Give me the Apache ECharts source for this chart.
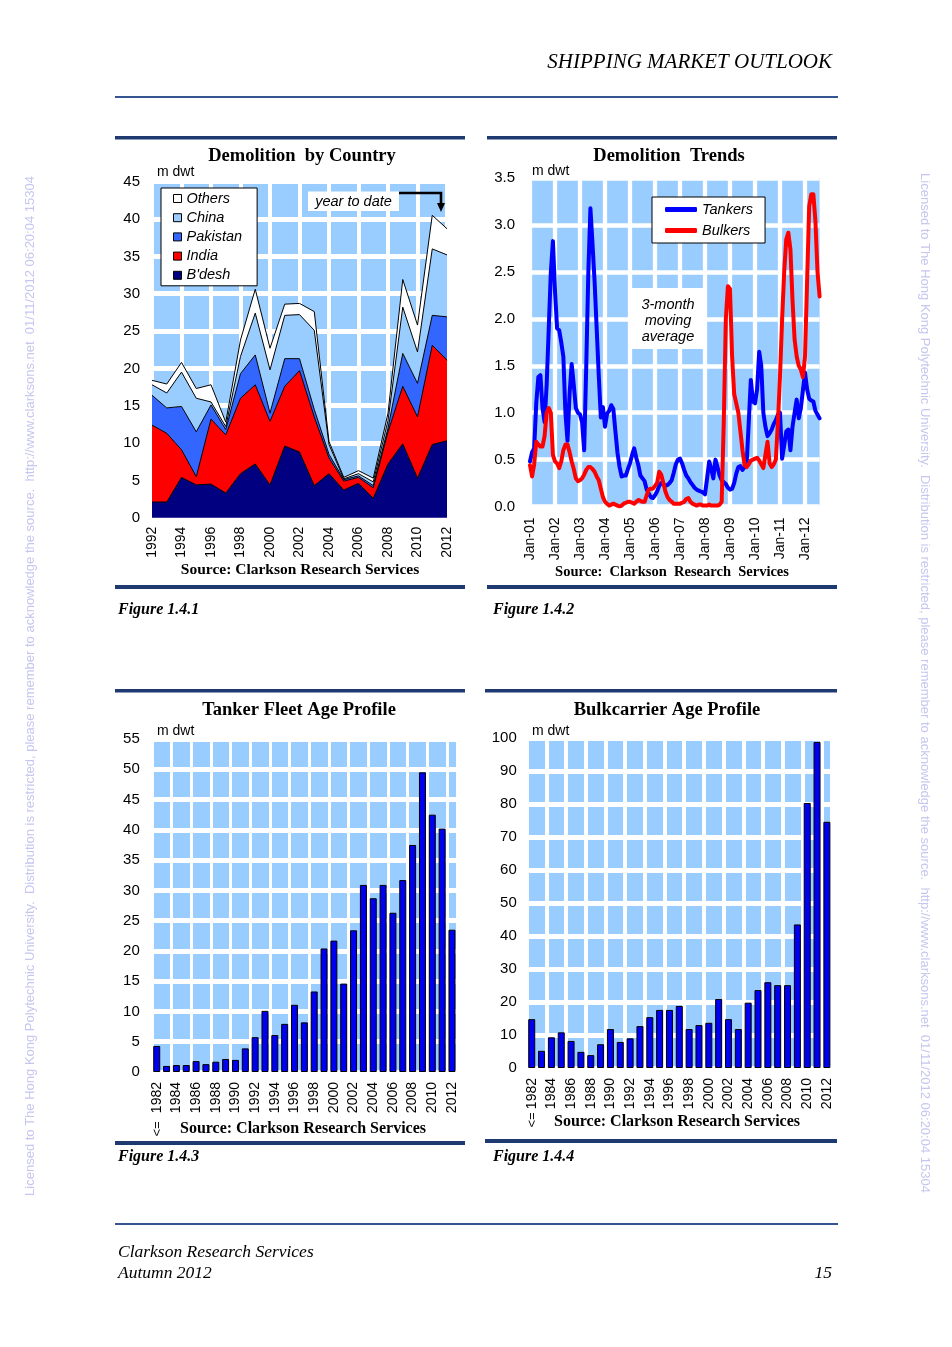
<!DOCTYPE html>
<html><head><meta charset="utf-8">
<script src="https://cdn.jsdelivr.net/npm/echarts@6/dist/echarts.min.js"></script>
<style>html,body{margin:0;padding:0;background:#fff;}#c{width:952px;height:1347px;}</style>
</head><body><div id="c"></div>
<script>
// ---------- Figure 1.4.1 : Demolition by Country (m dwt, stacked) ----------
const demoYears = ['1992','1993','1994','1995','1996','1997','1998','1999','2000','2001','2002','2003','2004','2005','2006','2007','2008','2009','2010','2011','2012'];
const bdesh    = [2.1,2.1,5.4,4.4,4.5,3.3,5.9,7.2,4.4,9.6,8.8,4.3,5.9,3.7,4.6,2.6,7.2,9.9,5.3,9.8,10.3];
const india    = [10.3,9.2,3.7,1.1,8.7,7.8,10.1,10.6,8.5,8.0,10.9,9.2,2.1,1.2,0.8,1.4,4.3,7.7,8.2,13.3,10.8];
const pakistan = [4.0,3.4,5.8,6.0,1.9,0.7,3.3,4.0,1.1,3.7,1.6,1.0,0.5,0.2,0.2,0.3,0.5,4.4,4.5,4.0,5.8];
const china    = [1.4,2.0,4.6,4.5,0.4,0.4,2.3,5.6,5.8,5.8,5.9,10.6,1.3,0.1,0.3,0.5,1.0,6.2,4.2,8.9,8.3];
const others   = [0.6,1.2,1.3,1.3,2.3,0.6,2.2,3.2,2.9,1.5,1.5,2.5,0.4,0.2,0.4,0.5,1.0,3.7,3.6,4.5,3.5];

// ---------- Figure 1.4.2 : Demolition Trends (3-month moving average, m dwt) ----------
const monthAbbr = ['Jan','Feb','Mar','Apr','May','Jun','Jul','Aug','Sep','Oct','Nov','Dec'];
const trendYears = ['01','02','03','04','05','06','07','08','09','10','11','12'];
const tankers = [
 0.48,0.58,0.62,1.10,1.38,1.40,1.05,0.90,1.30,1.90,2.50,2.83,
 2.30,1.90,1.88,1.75,1.60,1.00,0.70,1.20,1.52,1.30,1.05,1.00,
 0.98,0.90,0.60,1.50,2.50,3.18,2.80,2.40,1.90,1.40,0.95,1.06,
 0.85,0.99,1.02,1.08,1.04,0.80,0.57,0.42,0.32,0.33,0.33,0.40,
 0.46,0.55,0.62,0.52,0.44,0.33,0.30,0.27,0.18,0.14,0.10,0.09,
 0.12,0.16,0.22,0.25,0.24,0.22,0.23,0.25,0.28,0.36,0.45,0.50,
 0.51,0.46,0.39,0.33,0.30,0.26,0.23,0.20,0.18,0.17,0.16,0.15,
 0.13,0.30,0.48,0.40,0.30,0.50,0.42,0.33,0.28,0.26,0.24,0.20,
 0.18,0.19,0.25,0.35,0.42,0.43,0.39,0.42,0.46,0.90,1.35,1.12,
 1.10,1.25,1.65,1.50,1.00,0.85,0.75,0.78,0.82,0.88,0.92,0.98,
 1.00,0.51,0.65,0.80,0.82,0.60,0.85,1.00,1.14,0.94,1.05,1.24,
 1.43,1.25,1.15,1.13,1.12,1.02,0.98,0.94];
const bulkers = [
 0.44,0.32,0.45,0.69,0.66,0.64,0.64,0.75,1.00,1.05,1.00,0.55,
 0.48,0.46,0.41,0.48,0.60,0.66,0.66,0.58,0.48,0.40,0.30,0.27,
 0.28,0.30,0.34,0.39,0.42,0.42,0.40,0.37,0.32,0.28,0.19,0.10,
 0.05,0.03,0.01,0.02,0.03,0.02,0.01,0.00,0.01,0.03,0.04,0.05,
 0.05,0.04,0.03,0.05,0.07,0.06,0.05,0.05,0.12,0.18,0.19,0.19,
 0.22,0.25,0.37,0.34,0.25,0.16,0.10,0.07,0.05,0.03,0.03,0.03,
 0.03,0.04,0.05,0.08,0.09,0.05,0.03,0.02,0.01,0.02,0.02,0.01,
 0.01,0.01,0.02,0.01,0.01,0.01,0.01,0.02,0.05,0.90,2.00,2.35,
 2.32,1.60,1.20,1.10,1.00,0.80,0.60,0.44,0.42,0.45,0.49,0.50,
 0.51,0.52,0.49,0.45,0.41,0.55,0.69,0.46,0.42,0.45,0.50,0.90,
 1.39,1.99,2.50,2.85,2.92,2.74,2.20,1.78,1.60,1.50,1.46,1.38,
 1.60,2.40,3.20,3.33,3.33,3.04,2.50,2.24];

// ---------- Figures 1.4.3 / 1.4.4 : Age profiles (m dwt by year built) ----------
const ageYears = ['1982','1983','1984','1985','1986','1987','1988','1989','1990','1991','1992','1993','1994','1995','1996','1997','1998','1999','2000','2001','2002','2003','2004','2005','2006','2007','2008','2009','2010','2011','2012'];
const tankerAge = [4.3,1.0,1.15,1.15,1.8,1.3,1.7,2.15,2.0,3.9,5.75,10.1,6.1,7.95,11.1,8.2,13.3,20.4,21.7,14.6,23.4,30.9,28.7,30.9,26.3,31.7,37.5,49.5,42.5,40.2,23.5];
const bulkerAge = [14.8,5.2,9.3,10.8,8.2,4.9,3.9,7.2,11.8,7.9,9.0,12.7,15.4,17.6,17.6,18.8,11.8,13.0,13.7,20.9,14.8,11.8,19.8,23.6,26.0,25.1,25.1,43.5,80.3,98.8,74.6];

// ---------- build ----------
const trendMonths = [];
trendYears.forEach(y => monthAbbr.forEach(m => trendMonths.push(m + '-' + y)));
trendMonths.length = tankers.length;

const SANS = 'Liberation Sans, Arial, sans-serif';
const SERIF = 'Liberation Serif, Times New Roman, serif';
const BG = '#99CCFF';
const NAVY = '#1f3a70';

const chart = echarts.init(document.getElementById('c'), null, {renderer: 'canvas'});

function yAxis(gi, min, max, interval, margin, hw, fmt) {
  return {type: 'value', gridIndex: gi, min, max, interval,
    axisLine: {show: false}, axisTick: {show: false},
    axisLabel: {color: '#000', fontFamily: SANS, fontSize: 15, margin, formatter: fmt},
    splitLine: {show: true, lineStyle: {color: '#fff', width: hw}}};
}
function xCat(gi, data, gap, interval, margin, vw) {
  return {type: 'category', gridIndex: gi, data, boundaryGap: gap,
    axisLine: {show: false}, axisTick: {show: false},
    axisLabel: {color: '#000', fontFamily: SANS, fontSize: 14, rotate: 90, margin, interval},
    splitLine: {show: true, interval, lineStyle: {color: '#fff', width: vw}}};
}
function area(name, data, fill) {
  return {name, type: 'line', xAxisIndex: 0, yAxisIndex: 0, stack: 'dem', data,
    symbol: 'none', showSymbol: false, color: fill,
    itemStyle: {color: fill},
    lineStyle: {color: '#000', width: 1},
    areaStyle: {color: fill, opacity: 1}};
}

const WM = 'Licensed to The Hong Kong Polytechnic University.  Distribution is restricted, please remember to acknowledge the source.  http://www.clarksons.net  01/11/2012 06:20:04 15304';

const g = [];
function T(x, y, text, s, extra) {
  g.push(Object.assign({type: 'text', x, y, z: 100,
    style: Object.assign({text, fill: '#000', fontFamily: SANS, fontSize: 14.5, align: 'left', verticalAlign: 'middle'}, s || {})}, extra || {}));
}
function R(x, y, w, h, fill, extra) {
  g.push(Object.assign({type: 'rect', z: 90, shape: {x, y, width: w, height: h}, style: {fill}}, extra || {}));
}

// watermarks
T(30, 686, WM, {fill: '#c6c6ef', fontSize: 13, align: 'center'}, {rotation: Math.PI / 2});
T(925, 683, WM, {fill: '#c6c6ef', fontSize: 13, align: 'center'}, {rotation: -Math.PI / 2});

// header / footer
T(832, 62, 'SHIPPING MARKET OUTLOOK', {fontFamily: SERIF, fontStyle: 'italic', fontSize: 21, align: 'right'});
R(115, 96, 723, 2, '#34558f');
R(115, 1223, 723, 2, '#34558f');
T(118, 1252, 'Clarkson Research Services', {fontFamily: SERIF, fontStyle: 'italic', fontSize: 17.5});
T(118, 1273, 'Autumn 2012', {fontFamily: SERIF, fontStyle: 'italic', fontSize: 17.5});
T(832, 1273, '15', {fontFamily: SERIF, fontStyle: 'italic', fontSize: 17.5, align: 'right'});

// chart frames
R(115, 136, 350, 3.5, NAVY); R(115, 585, 350, 4, NAVY);
R(487, 136, 350, 3.5, NAVY); R(487, 585, 350, 4, NAVY);
R(115, 689, 350, 3.5, NAVY); R(115, 1141, 350, 4, NAVY);
R(485, 689, 352, 3.5, NAVY); R(485, 1139, 352, 4, NAVY);

// titles
const titleS = {fontFamily: SERIF, fontWeight: 'bold', fontSize: 18.5, align: 'center'};
T(302, 156, 'Demolition  by Country', titleS);
T(669, 156, 'Demolition  Trends', titleS);
T(299, 710, 'Tanker Fleet Age Profile', titleS);
T(667, 710, 'Bulkcarrier Age Profile', titleS);

// units
T(157, 172, 'm dwt', {fontSize: 14});
T(532, 171, 'm dwt', {fontSize: 14});
T(157, 731, 'm dwt', {fontSize: 14});
T(532, 731, 'm dwt', {fontSize: 14});

// sources
const srcS = {fontFamily: SERIF, fontWeight: 'bold', fontSize: 15.5, align: 'center'};
T(300, 570, 'Source: Clarkson Research Services', srcS);
T(672, 572, 'Source:  Clarkson  Research  Services', Object.assign({}, srcS, {fontSize: 14.5}));
T(303, 1129, 'Source: Clarkson Research Services', Object.assign({}, srcS, {fontSize: 16}));
T(677, 1122, 'Source: Clarkson Research Services', Object.assign({}, srcS, {fontSize: 16}));
T(157, 1129, '<=', {fontSize: 13, align: 'center'}, {rotation: Math.PI / 2});
T(532, 1120, '<=', {fontSize: 13, align: 'center'}, {rotation: Math.PI / 2});

// figure labels
const figS = {fontFamily: SERIF, fontWeight: 'bold', fontStyle: 'italic', fontSize: 16};
T(118, 610, 'Figure 1.4.1', figS);
T(493, 610, 'Figure 1.4.2', figS);
T(118, 1157, 'Figure 1.4.3', figS);
T(493, 1157, 'Figure 1.4.4', figS);

// year to date annotation
R(308, 191.5, 91, 19.5, '#fff');
T(353.5, 201.5, 'year to date', {fontStyle: 'italic', align: 'center'});
g.push({type: 'polyline', z: 100, shape: {points: [[399, 193], [441, 193], [441, 205]]}, style: {stroke: '#000', lineWidth: 2.6, fill: null}});
g.push({type: 'polygon', z: 100, shape: {points: [[437, 203], [445, 203], [441, 212]]}, style: {fill: '#000'}});

// 3-month moving average box
R(632, 288, 75, 61, '#fff');
T(668, 304.5, '3-month', {fontStyle: 'italic', align: 'center'});
T(668, 321, 'moving', {fontStyle: 'italic', align: 'center'});
T(668, 337, 'average', {fontStyle: 'italic', align: 'center'});

const option = {
  animation: false,
  backgroundColor: '#fff',
  textStyle: {fontFamily: SANS},
  grid: [
    {left: 152, top: 181.7, width: 295, height: 336, show: true, backgroundColor: BG, borderWidth: 0, containLabel: false},
    {left: 530, top: 178.3, width: 289.6, height: 328.2, show: true, backgroundColor: BG, borderWidth: 0},
    {left: 151.8, top: 739, width: 305.1, height: 333, show: true, backgroundColor: BG, borderWidth: 0},
    {left: 526.8, top: 738, width: 305, height: 330, show: true, backgroundColor: BG, borderWidth: 0}
  ],
  xAxis: [
    xCat(0, demoYears, false, 1, 9, 4),
    xCat(1, trendMonths, false, (i) => i % 12 === 0, 11, 4.3),
    xCat(2, ageYears, true, 1, 10, 3),
    xCat(3, ageYears, true, 1, 10, 4)
  ],
  yAxis: [
    yAxis(0, 0, 45, 5, 12, 5),
    yAxis(1, 0, 3.5, 0.5, 15, 4.7, (v) => v.toFixed(1)),
    yAxis(2, 0, 55, 5, 12, 5),
    yAxis(3, 0, 100, 10, 10, 5)
  ],
  legend: [
    {orient: 'vertical', left: 161, top: 188, padding: [3, 15, 3, 12], itemGap: 4.2,
     itemWidth: 8, itemHeight: 8, icon: 'rect', backgroundColor: '#fff', borderColor: '#000', borderWidth: 1,
     itemStyle: {borderColor: '#000', borderWidth: 1},
     textStyle: {fontFamily: SANS, fontSize: 14.5, fontStyle: 'italic', color: '#000'},
     selectedMode: false,
     data: ['Others', 'China', 'Pakistan', 'India', "B'desh"]},
    {orient: 'vertical', left: 652, top: 197, padding: [5, 12, 5, 13], itemGap: 6,
     itemWidth: 32, itemHeight: 5, icon: 'roundRect', backgroundColor: '#fff', borderColor: '#000', borderWidth: 1,
     itemStyle: {borderWidth: 0},
     textStyle: {fontFamily: SANS, fontSize: 14.5, fontStyle: 'italic', color: '#000'},
     selectedMode: false,
     data: ['Tankers', 'Bulkers']}
  ],
  series: [
    area("B'desh", bdesh, '#000080'),
    area('India', india, '#FF0000'),
    area('Pakistan', pakistan, '#3366FF'),
    area('China', china, '#99CCFF'),
    area('Others', others, '#FFFFFF'),
    {name: 'Tankers', type: 'line', xAxisIndex: 1, yAxisIndex: 1, data: tankers, symbol: 'none', showSymbol: false,
     color: '#0000FF', lineStyle: {color: '#0000FF', width: 4, cap: 'round', join: 'round'}},
    {name: 'Bulkers', type: 'line', xAxisIndex: 1, yAxisIndex: 1, data: bulkers, symbol: 'none', showSymbol: false,
     color: '#FF0000', lineStyle: {color: '#FF0000', width: 4, cap: 'round', join: 'round'}},
    {name: 'Tanker fleet', type: 'bar', xAxisIndex: 2, yAxisIndex: 2, data: tankerAge, barWidth: 7,
     itemStyle: {color: '#0000F0', borderColor: '#000', borderWidth: 1}},
    {name: 'Bulkcarrier fleet', type: 'bar', xAxisIndex: 3, yAxisIndex: 3, data: bulkerAge, barWidth: 7,
     itemStyle: {color: '#0000F0', borderColor: '#000', borderWidth: 1}}
  ],
  graphic: g
};
chart.setOption(option);
</script></body></html>
